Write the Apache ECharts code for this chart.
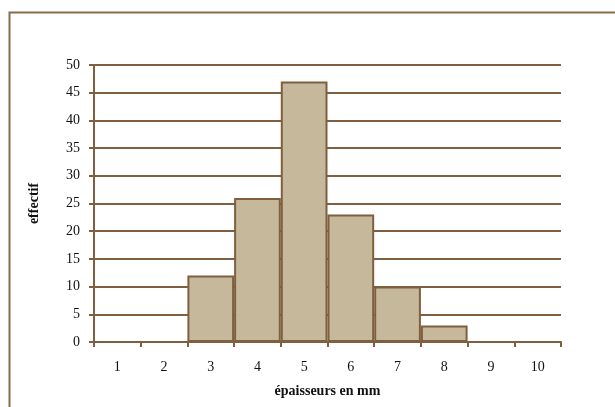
<!DOCTYPE html>
<html>
<head>
<meta charset="utf-8">
<script src="https://cdn.jsdelivr.net/npm/echarts@6/dist/echarts.min.js"></script>
<style>
  html, body { margin: 0; padding: 0; background: #fff; }
  #chart { width: 615px; height: 407px; }
</style>
</head>
<body>
<div id="chart"></div>
<script>
// Histogram of thicknesses (mm)
var categories = ['1', '2', '3', '4', '5', '6', '7', '8', '9', '10'];
var counts = [0, 0, 12, 26, 47, 23, 10, 3, 0, 0];
var yTicks = { min: 0, max: 50, interval: 5 };

var brown = '#7f5f3f';
var font = 'Liberation Serif';

var chart = echarts.init(document.getElementById('chart'));
chart.setOption({
  animation: false,
  backgroundColor: '#fff',
  graphic: [{
    type: 'rect',
    shape: { x: 9.5, y: 12.5, width: 700, height: 500 },
    style: { fill: 'none', stroke: '#8a6a4c', lineWidth: 2 },
    silent: true
  }],
  grid: { left: 94, right: 54, top: 65, bottom: 65 },
  xAxis: {
    type: 'category',
    data: categories,
    name: 'épaisseurs en mm',
    nameLocation: 'middle',
    nameGap: 42,
    nameTextStyle: { fontFamily: font, fontSize: 14, fontWeight: 'bold', color: '#111' },
    axisLine: { lineStyle: { color: brown, width: 2 } },
    axisTick: { show: true, length: 5, lineStyle: { color: brown, width: 2 } },
    axisLabel: { fontFamily: font, fontSize: 14, color: '#111', margin: 18 }
  },
  yAxis: {
    type: 'value',
    min: yTicks.min,
    max: yTicks.max,
    interval: yTicks.interval,
    name: 'effectif',
    nameLocation: 'middle',
    nameGap: 53,
    nameTextStyle: { fontFamily: font, fontSize: 14, fontWeight: 'bold', color: '#111' },
    axisLine: { show: true, lineStyle: { color: brown, width: 2 } },
    axisTick: { show: true, length: 5, lineStyle: { color: brown, width: 2 } },
    axisLabel: { fontFamily: font, fontSize: 14, color: '#111', margin: 14 },
    splitLine: { show: true, lineStyle: { color: brown, width: 2 } }
  },
  series: [{
    type: 'bar',
    data: counts,
    barCategoryGap: '0%',
    itemStyle: { color: '#c6b89b', borderColor: brown, borderWidth: 2 }
  }]
});
</script>
</body>
</html>
